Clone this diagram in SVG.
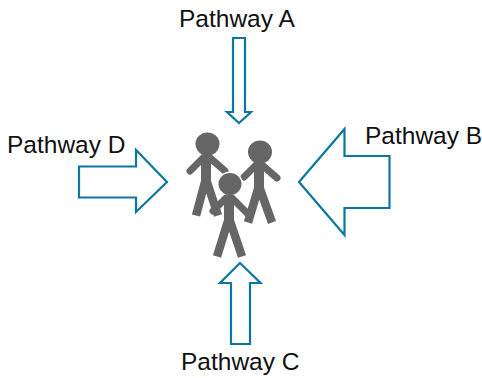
<svg xmlns="http://www.w3.org/2000/svg" width="482" height="378" viewBox="0 0 482 378">
<style>
.arrow{fill:#fff;stroke:#0b76a0;stroke-width:2.2;stroke-linejoin:miter}
.label{font-family:"Liberation Sans",Arial,sans-serif;font-size:24.500px;fill:#111}
.arm{fill:none;stroke:#666;stroke-width:7;stroke-linecap:round;stroke-linejoin:round}
.leg{fill:none;stroke:#666;stroke-width:8.500;stroke-linecap:butt}
.torso{fill:none;stroke:#666;stroke-width:10}
.head{fill:#666}
.halo{fill:#fff;stroke:#fff;stroke-width:2}
</style>
<rect width="482" height="378" fill="#fff"/>
<g id="people">
<g id="person-1">
<ellipse class="head" cx="207.500" cy="144" rx="12" ry="11.500"/>
<path class="torso" d="M206 155V186"/>
<path class="arm" d="M190 171L204 157H209L225 171"/>
<path class="leg" d="M205 182L196 215.500M207 182L218 215.500"/>
</g>
<g id="person-2">
<ellipse class="head" cx="260" cy="152" rx="12" ry="11.500"/>
<path class="torso" d="M259 163V193"/>
<path class="arm" d="M244 177L256 165H262L277 178"/>
<path class="leg" d="M258 189L248 222.500M260 189L272 222.500"/>
</g>
<g id="person-3">
<ellipse class="halo" cx="230" cy="184" rx="12" ry="11.500"/>
<ellipse class="head" cx="230" cy="184" rx="11.500" ry="11"/>
<path class="torso" d="M229 196V225"/>
<path class="arm" d="M213 211L226 198H232L247 213"/>
<path class="leg" d="M228 221L217 256.500M230 221L242 256.500"/>
</g>
</g>
<g id="connectors">
<path class="arrow" d="M233 38H245V112H251L239 123L227 112H233Z"/>
<path class="arrow" d="M299 182L344.500 129V156H389.500V208H344.500V235Z"/>
<path class="arrow" d="M240 263L260.500 283H250V344H231V283H220Z"/>
<path class="arrow" d="M167 182L136 150V166.500H79V197.500H136V212Z"/>
</g>
<g id="node-a"><text class="label" x="179" y="27">Pathway A</text></g>
<g id="node-b"><text class="label" x="365" y="144">Pathway B</text></g>
<g id="node-c"><text class="label" x="181" y="370">Pathway C</text></g>
<g id="node-d"><text class="label" x="7" y="153">Pathway D</text></g>
</svg>
